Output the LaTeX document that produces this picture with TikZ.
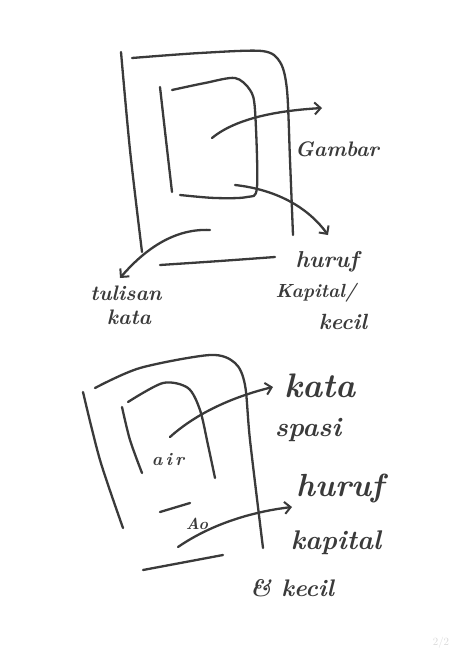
\documentclass[tikz,border=0pt]{standalone}
\usepackage{fontspec}
\usetikzlibrary{arrows.meta}
\definecolor{ink}{HTML}{3A3A3A}
\definecolor{faint}{HTML}{D8D8D8}
\begin{document}
\begin{tikzpicture}[x=1pt,y=-1pt,
  stroke/.style={draw=ink,line width=2.3pt,line cap=round,line join=round},
  arr/.style={stroke,-{Straight Barb[length=6pt,width=12pt,line width=2pt]}},
  lbl/.style={text=ink,font=\bfseries\itshape\fontsize{#1}{#1}\selectfont,inner sep=0pt},
  lbl/.default=20]
\useasboundingbox[fill=white] (0,0) rectangle (467,650);
% ---------- top sketch ----------
\draw[stroke] plot[smooth] coordinates {(121,52) (130,150) (142,252)};
\draw[stroke] plot[smooth] coordinates {(132,58) (200,53) (262,51) (280,62) (287,90) (290,160) (293,235)};
\draw[stroke] plot[smooth] coordinates {(160,265) (220,261) (275,257)};
\draw[stroke] plot[smooth] coordinates {(160,87) (166,140) (172,192)};
\draw[stroke] plot[smooth] coordinates {(172,90) (205,83) (235,78) (250,90) (255,110) (257,187) (247,197) (215,198) (180,195)};
\coordinate (g0) at (212,138);
\coordinate (g1) at (322,108);
\coordinate (h0) at (235,185);
\coordinate (h1) at (328,235);
\coordinate (t0) at (210,230);
\coordinate (t1) at (120,278);
\node[lbl=21] (gambar) at (337,149) {Gambar};
\node[lbl=21] (tulisan) at (126,293) {tulisan};
\node[lbl=21] (kata1) at (129,317) {kata};
\node[lbl=23] (huruf1) at (327,262) {huruf};
\node[lbl=19] (kapital1) at (316,293) {Kapital/};
\node[lbl=22] (kecil1) at (343,322) {kecil};
\draw[arr] (g0) .. controls (240,115) and (290,110) .. (g1);
\draw[arr] (h0) .. controls (280,190) and (310,210) .. (h1);
\draw[arr] (t0) .. controls (170,228) and (140,255) .. (t1);
% ---------- bottom sketch ----------
\draw[stroke] plot[smooth] coordinates {(83,392) (100,460) (123,528)};
\draw[stroke] plot[smooth] coordinates {(95,388) (140,368) (210,355) (235,363) (245,385) (250,440) (263,548)};
\draw[stroke] plot[smooth] coordinates {(122,407) (130,440) (142,473)};
\draw[stroke] plot[smooth] coordinates {(128,402) (163,383) (188,388) (200,410) (208,445) (215,478)};
\draw[stroke] (160,512) -- (190,503);
\draw[stroke] (143,570) -- (223,555);
\node[lbl=18] (air) at (168,460) {a\,i\,r};
\node[lbl=16] (ao) at (197,524) {Ao};
\node[lbl=34] (kata) at (320,386) {kata};
\node[lbl=27] (spasi) at (308,430) {spasi};
\node[lbl=32] (huruf2) at (340,488) {huruf};
\node[lbl=27] (kapital2) at (336,543) {kapital};
\node[lbl=24] (kecil2) at (292,588) {\& kecil};
\coordinate (a0) at (170,437);
\coordinate (a1) at (273,387);
\coordinate (b0) at (178,547);
\coordinate (b1) at (292,507);
\draw[arr] (a0) .. controls (200,410) and (240,395) .. (a1);
\draw[arr] (b0) .. controls (210,525) and (250,512) .. (b1);
\node[text=faint,font=\fontsize{11}{11}\selectfont,inner sep=0pt] (page) at (441,643) {2/2};
\end{tikzpicture}
\end{document}
